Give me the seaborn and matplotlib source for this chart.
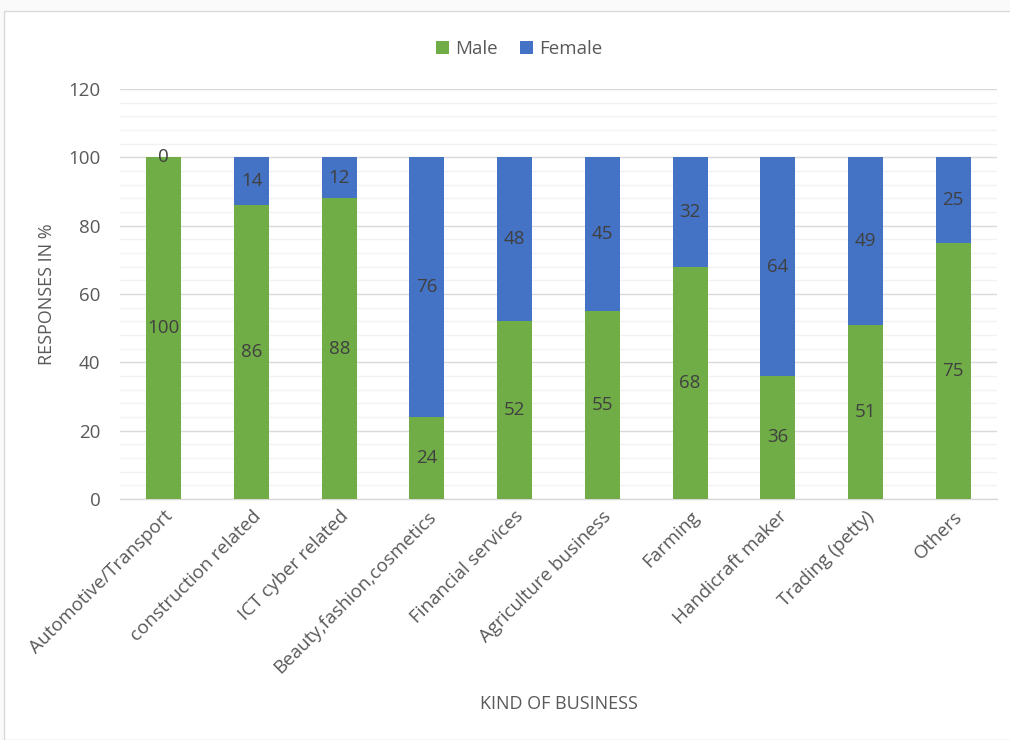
import matplotlib
matplotlib.use("Agg")
import matplotlib.pyplot as plt
from matplotlib.patches import Rectangle
from matplotlib.ticker import MultipleLocator
import seaborn as sns
import pandas as pd
import numpy as np

categories = ["Automotive/Transport", "construction related", "ICT cyber related",
              "Beauty,fashion,cosmetics", "Financial services", "Agriculture business",
              "Farming", "Handicraft maker", "Trading (petty)", "Others"]
male = [100, 86, 88, 24, 52, 55, 68, 36, 51, 75]
female = [0, 14, 12, 76, 48, 45, 32, 64, 49, 25]

sns.set_theme(style="white")
plt.rcParams["font.family"] = ["Open Sans", "DejaVu Sans"]

GREEN = "#70AD47"
BLUE = "#4472C4"
TEXT = "#595959"
LABEL = "#404040"

df = pd.DataFrame({"category": categories, "Male": male, "Female": female})

fig = plt.figure(figsize=(10.1, 7.4), dpi=100)
fig.patch.set_facecolor("#FAFAFA")
fig.patches.append(Rectangle((4 / 1010, 0), 1.0, 1 - 11 / 740, transform=fig.transFigure,
                             facecolor="white", edgecolor="#D9D9D9", linewidth=1.0, zorder=-1))

ax = fig.add_axes([120 / 1010, 1 - 499 / 740, 877 / 1010, 410 / 740])
ax.set_facecolor("none")

sns.barplot(data=df, x="category", y="Male", color=GREEN, width=0.4,
            saturation=1, ax=ax, label="Male", zorder=3, linewidth=0)
sns.barplot(data=df, x="category", y="Female", color=BLUE, width=0.4,
            saturation=1, ax=ax, label="Female", bottom=df["Male"], zorder=3, linewidth=0)

# segment value labels, centred in each segment
for i, (m, f) in enumerate(zip(male, female)):
    ax.text(i, m / 2, f"{m}", ha="center", va="center", fontsize=13.5, color=LABEL, zorder=4)
    ax.text(i, m + f / 2, f"{f}", ha="center", va="center", fontsize=13.5, color=LABEL, zorder=4)

ax.set_ylim(0, 120)
ax.set_xlim(-0.5, len(categories) - 0.5)
ax.yaxis.set_major_locator(MultipleLocator(20))
ax.yaxis.set_minor_locator(MultipleLocator(4))
ax.grid(axis="y", which="major", color="#D9D9D9", linewidth=1.0, zorder=0)
ax.grid(axis="y", which="minor", color="#F2F2F2", linewidth=1.0, zorder=0)
ax.set_axisbelow(True)

for side in ["top", "right", "left"]:
    ax.spines[side].set_visible(False)
ax.spines["bottom"].set_color("#D9D9D9")
ax.spines["bottom"].set_linewidth(1.0)

ax.tick_params(axis="y", which="both", length=0, labelsize=13.5, labelcolor=TEXT, pad=14)
ax.tick_params(axis="x", length=0, labelsize=13.5, labelcolor=TEXT, pad=6)
plt.setp(ax.get_xticklabels(), rotation=45, ha="right", rotation_mode="anchor")

ax.set_xlabel("KIND OF BUSINESS", fontsize=13, color=TEXT, labelpad=13)
ax.set_ylabel("RESPONSES IN %", fontsize=13, color=TEXT, labelpad=9)

ax.legend(loc="lower center", bbox_to_anchor=(0.455, 1.035), ncol=2, frameon=False,
          fontsize=13.5, labelcolor=TEXT, handlelength=0.7, handleheight=0.7,
          handletextpad=0.3, columnspacing=1.2)

fig.savefig("out.png", dpi=100)
